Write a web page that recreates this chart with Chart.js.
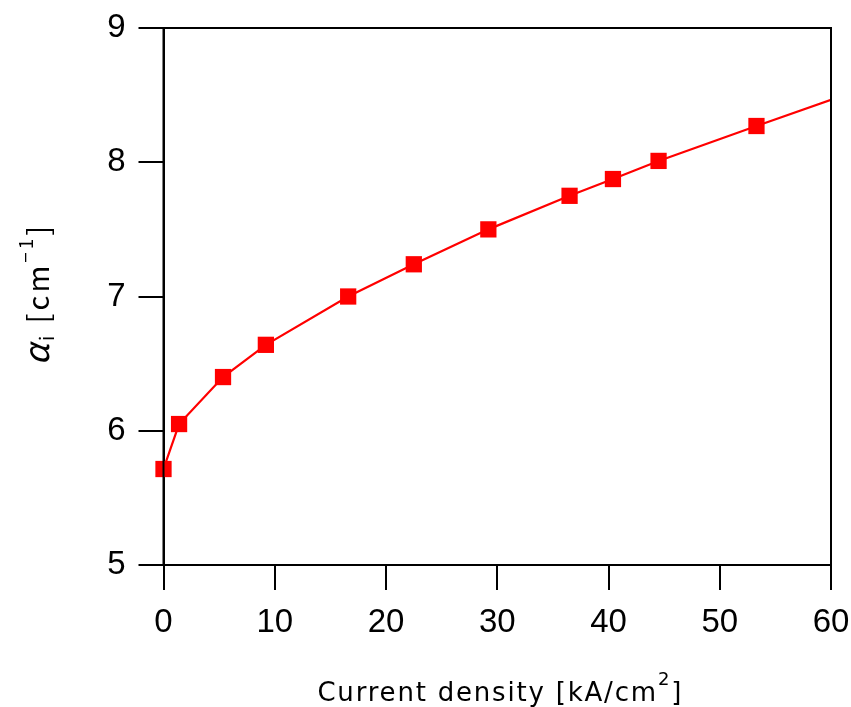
<!DOCTYPE html>
<html>
<head>
<meta charset="utf-8">
<script src="https://cdn.jsdelivr.net/npm/chart.js@4.4.1/dist/chart.umd.min.js"></script>
<style>
  html, body { margin: 0; padding: 0; background: #fff; overflow: hidden; }
  canvas { display: block; }
</style>
</head>
<body>
<canvas id="alphaChart" width="851" height="707"></canvas>
<script>
// measured points (current density in kA/cm2, internal loss alpha_i in cm-1)
const currentDensity = [0, 1.4, 5.35, 9.2, 16.6, 22.5, 29.2, 36.5, 40.4, 44.5, 53.3];
const alphaI = [5.715, 6.05, 6.40, 6.64, 7.00, 7.24, 7.50, 7.75, 7.875, 8.01, 8.27];

// fit curve goes on past the last point to the edge of the plot
const fitX = [...currentDensity, 60];
const fitY = [...alphaI, 8.465];

const xTicks = [0, 10, 20, 30, 40, 50, 60];
const yTicks = [5, 6, 7, 8, 9];

const RED = '#ff0000';
const tickFont = {family: 'Liberation Sans', size: 33};

// draw a line of text made of pieces (sub/superscripts), centred on x,y
function drawRich(ctx, parts, x, y, angle, spacing) {
	ctx.save();
	ctx.translate(x, y);
	ctx.rotate(angle);
	ctx.letterSpacing = spacing + 'px';
	let total = 0;
	parts.forEach(p => { ctx.font = p.font; p.w = ctx.measureText(p.text).width; total += p.w; });
	let cx = -total / 2;
	ctx.fillStyle = '#000';
	ctx.textBaseline = 'alphabetic';
	ctx.textAlign = 'left';
	parts.forEach(p => {
		ctx.font = p.font;
		ctx.fillText(p.text, cx, p.dy || 0);
		cx += p.w;
	});
	ctx.restore();
}

const framePlugin = {
	id: 'frame',
	afterDraw(chart) {
		const {ctx, chartArea: a} = chart;
		ctx.save();
		ctx.strokeStyle = '#000';
		ctx.lineWidth = 2;
		ctx.strokeRect(a.left, a.top, a.right - a.left, a.bottom - a.top);
		ctx.restore();

		// x axis title
		drawRich(ctx, [
			{text: 'Current density [kA/cm', font: '26px "DejaVu Sans"'},
			{text: '2', font: '18px "DejaVu Sans"', dy: -16},
			{text: ']', font: '26px "DejaVu Sans"'}
		], (a.left + a.right) / 2 + 3, 701, 0, 1.8);
		// y axis title
		const tf = 'Noto Sans CJK JP';
		drawRich(ctx, [
			{text: 'α', font: `italic 34px "${tf}"`},
			{text: 'i', font: `19px "${tf}"`, dy: 5},
			{text: ' [cm', font: `29px "${tf}"`},
			{text: '−1', font: `19px "${tf}"`, dy: -16},
			{text: ']', font: `29px "${tf}"`}
		], 49, 294, -Math.PI / 2, 3);
	}
};

new Chart(document.getElementById('alphaChart'), {
	type: 'scatter',
	data: {
		datasets: [
			{
				// markers
				data: currentDensity.map((x, i) => ({x: x, y: alphaI[i]})),
				pointStyle: 'rect',
				pointRadius: 11.5,
				pointBackgroundColor: RED,
				pointBorderWidth: 0,
				showLine: false,
				clip: false,
				order: 0
			},
			{
				// fit line
				data: fitX.map((x, i) => ({x: x, y: fitY[i]})),
				showLine: true,
				borderColor: RED,
				borderWidth: 2.2,
				pointRadius: 0,
				order: 1
			}
		]
	},
	options: {
		responsive: false,
		devicePixelRatio: 1,
		animation: false,
		layout: {
			padding: {left: 0, right: 20, top: 28, bottom: 0}
		},
		plugins: {
			legend: {display: false},
			tooltip: {enabled: false}
		},
		scales: {
			x: {
				type: 'linear',
				min: 0,
				max: 60,
				afterFit: (s) => { s.height = 142; s.paddingLeft = 0; s.paddingRight = 0; },
				afterBuildTicks: (s) => { s.ticks = xTicks.map(v => ({value: v})); },
				grid: {drawOnChartArea: false, tickLength: 25, color: '#000', lineWidth: 2},
				border: {display: true, color: '#000', width: 2},
				ticks: {color: '#000', font: tickFont, padding: 13, maxRotation: 0}
			},
			y: {
				type: 'linear',
				min: 5,
				max: 9,
				afterFit: (s) => { s.width = 163.5; s.paddingTop = 0; s.paddingBottom = 0; },
				afterBuildTicks: (s) => { s.ticks = yTicks.map(v => ({value: v})); },
				grid: {drawOnChartArea: false, tickLength: 25, color: '#000', lineWidth: 2},
				border: {display: true, color: '#000', width: 2},
				ticks: {color: '#000', font: tickFont, padding: 13}
			}
		}
	},
	plugins: [framePlugin]
});
</script>
</body>
</html>
